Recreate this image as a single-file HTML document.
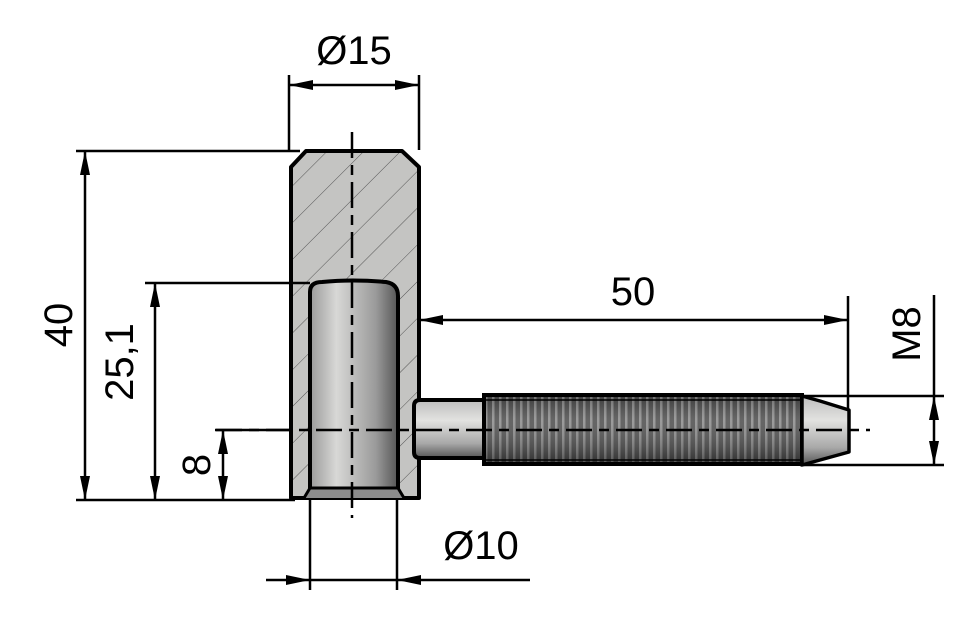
<!DOCTYPE html>
<html><head><meta charset="utf-8"><style>
html,body{margin:0;padding:0;background:#fff;}
svg{display:block;}
text{font-family:"Liberation Sans",sans-serif;font-size:40px;fill:#000;}
</style></head><body>
<svg width="977" height="627" viewBox="0 0 977 627" xmlns="http://www.w3.org/2000/svg">
<defs>
<linearGradient id="hole" x1="0" x2="1" y1="0" y2="0">
<stop offset="0" stop-color="#9a9a9a"/><stop offset="0.3" stop-color="#d8d8d6"/><stop offset="0.75" stop-color="#9a9a9a"/><stop offset="1" stop-color="#555"/>
</linearGradient>
<linearGradient id="pin" x1="0" x2="0" y1="0" y2="1">
<stop offset="0" stop-color="#bdbdbd"/><stop offset="0.35" stop-color="#e2e2e0"/><stop offset="0.75" stop-color="#a8a8a8"/><stop offset="1" stop-color="#555"/>
</linearGradient>
<pattern id="thr" width="7" height="10" patternUnits="userSpaceOnUse">
<rect width="7" height="10" fill="#4a4a4a"/><rect x="2" width="2.5" height="10" fill="#8a8a8a"/>
</pattern>
<linearGradient id="shade" x1="0" x2="0" y1="0" y2="1">
<stop offset="0" stop-color="#000" stop-opacity="0.2"/><stop offset="0.35" stop-color="#fff" stop-opacity="0.15"/><stop offset="1" stop-color="#000" stop-opacity="0.4"/>
</linearGradient>
<pattern id="hatch" width="26" height="26" patternUnits="userSpaceOnUse" patternTransform="rotate(45)">
<rect width="26" height="26" fill="#c4c4c2"/><line x1="0" y1="0" x2="0" y2="26" stroke="#555" stroke-width="1"/>
</pattern>
</defs>

<path d="M306,151 L402,151 L419,167 L419,498 L291,498 L291,167 Z" fill="url(#hatch)" stroke="#000" stroke-width="4" stroke-linejoin="round"/>
<path d="M310,498 L310,292 Q310,282 322,282 Q352,279 386,282 Q398,284 398,296 L398,498 Z" fill="url(#hole)" stroke="#000" stroke-width="4"/>
<path d="M304,498 L310,488 L398,488 L404,498" fill="#8c8c8c" stroke="#000" stroke-width="3"/>

<path d="M420,400 L484,400 L484,458 L420,458 Q414,458 414,452 L414,406 Q414,400 420,400 Z" fill="url(#pin)" stroke="#000" stroke-width="4"/>
<rect x="484" y="395" width="318" height="69" fill="url(#thr)"/>
<rect x="484" y="395" width="318" height="69" fill="url(#shade)"/>
<rect x="484" y="395" width="318" height="69" fill="none" stroke="#000" stroke-width="4"/>
<line x1="486" y1="400" x2="800" y2="400" stroke="#000" stroke-width="1.5"/>
<line x1="486" y1="460" x2="800" y2="460" stroke="#000" stroke-width="1.5"/>
<path d="M802,396 L820,401 L849,410 L849,452 L820,460 L802,465 Z" fill="url(#pin)" stroke="#000" stroke-width="3.5" stroke-linejoin="round"/>

<line x1="352" y1="132" x2="352" y2="518" stroke="#000" stroke-width="2.5" stroke-dasharray="26,7,10,7"/>
<line x1="216" y1="430" x2="870" y2="430" stroke="#000" stroke-width="2.5" stroke-dasharray="26,7,10,7"/>

<g stroke="#000" stroke-width="2.5" fill="none">
<line x1="289" y1="75" x2="289" y2="150"/><line x1="419" y1="75" x2="419" y2="150"/>
<line x1="76" y1="151" x2="300" y2="151"/>
<line x1="76" y1="500" x2="295" y2="500"/>
<line x1="145" y1="283" x2="310" y2="283"/>
<line x1="215" y1="430" x2="290" y2="430"/>
<line x1="848" y1="296" x2="848" y2="410"/>
<line x1="800" y1="396" x2="944" y2="396"/>
<line x1="800" y1="465" x2="944" y2="465"/>
<line x1="310" y1="500" x2="310" y2="590"/><line x1="397" y1="500" x2="397" y2="590"/>
<line x1="289" y1="85" x2="419" y2="85"/>
<line x1="85" y1="151" x2="85" y2="500"/>
<line x1="155" y1="283" x2="155" y2="500"/>
<line x1="223" y1="430" x2="223" y2="500"/>
<line x1="419" y1="320" x2="848" y2="320"/>
<line x1="934" y1="295" x2="934" y2="465"/>
<line x1="266" y1="580" x2="530" y2="580"/>
</g>
<g fill="#000">
<polygon points="289,85 313,80 313,90"/><polygon points="419,85 395,80 395,90"/>
<polygon points="85,151 80,175 90,175"/><polygon points="85,500 80,476 90,476"/>
<polygon points="155,283 150,307 160,307"/><polygon points="155,500 150,476 160,476"/>
<polygon points="223,430 218,454 228,454"/><polygon points="223,500 218,476 228,476"/>
<polygon points="419,320 443,315 443,325"/><polygon points="848,320 824,315 824,325"/>
<polygon points="934,396 929,420 939,420"/><polygon points="934,465 929,441 939,441"/>
<polygon points="310,580 286,575 286,585"/><polygon points="397,580 421,575 421,585"/>
</g>

<text x="354" y="64" text-anchor="middle">Ø15</text>
<text x="633" y="305" text-anchor="middle">50</text>
<text x="481" y="559" text-anchor="middle">Ø10</text>
<text transform="translate(72,325) rotate(-90)" text-anchor="middle">40</text>
<text transform="translate(133,362) rotate(-90)" text-anchor="middle">25,1</text>
<text transform="translate(210,465) rotate(-90)" text-anchor="middle">8</text>
<text transform="translate(920,334) rotate(-90)" text-anchor="middle">M8</text>
</svg>
</body></html>
